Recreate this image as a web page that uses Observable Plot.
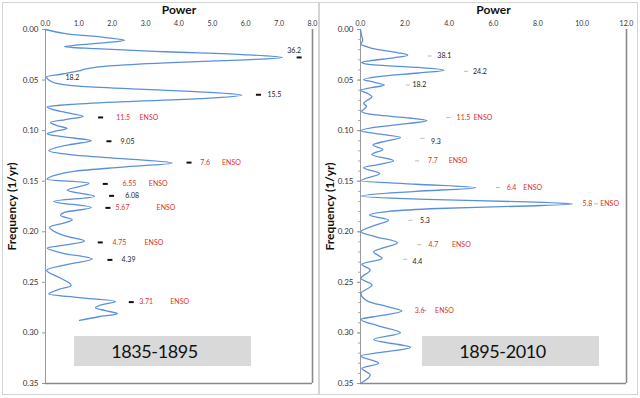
<!DOCTYPE html>
<html>
<head>
<meta charset="utf-8">
<script src="https://cdn.jsdelivr.net/npm/d3@7"></script>
<script src="https://cdn.jsdelivr.net/npm/@observablehq/plot@0.6"></script>
<style>
  html, body { margin: 0; padding: 0; background: #fff; }
  #wrap { position: relative; width: 640px; height: 398px; overflow: hidden; font-family: Lato, "Open Sans", sans-serif; }
  .panel { position: absolute; top: 0; }
  .border { position: absolute; border: 1px solid #d4d4d4; pointer-events: none; }
  .box { position: absolute; background: #d9d9d9; color: #111; font-size: 18px; letter-spacing: -0.4px; display: flex; align-items: center; justify-content: center; }
</style>
</head>
<body>
<div id="wrap">
  <div class="border" style="left:2px;top:2px;width:315px;height:391px"></div>
  <div class="border" style="left:319px;top:2px;width:317px;height:391px"></div>
  <div class="panel" id="left" style="left:0px"></div>
  <div class="panel" id="right" style="left:320px"></div>
  <div class="box" style="left:74px;top:336px;width:177px;height:30px;padding-right:16px;box-sizing:border-box">1835-1895</div>
  <div class="box" style="left:422px;top:336px;width:177px;height:30px;padding-right:16px;box-sizing:border-box">1895-2010</div>
</div>
<script>
// ---------- data: left panel (1835-1895) ----------
const leftFreq  = [0,0.004,0.008,0.0106,0.013,0.0155,0.017,0.019,0.022,0.025,0.0277,0.030,0.033,0.036,0.039,0.041,0.044,0.047,0.050,0.053,0.056,0.059,0.062,0.065,0.068,0.071,0.074,0.0765,0.079,0.082,0.086,0.089,0.092,0.095,0.098,0.1005,0.103,0.106,0.110,0.114,0.120,0.124,0.128,0.132,0.136,0.140,0.144,0.148,0.152,0.159,0.165,0.170,0.176,0.181,0.184,0.188,0.191,0.1955,0.201,0.205,0.209,0.213,0.216,0.221,0.227,0.232,0.238,0.245,0.253,0.257,0.2615,0.265,0.269,0.272,0.275,0.278,0.281,0.284,0.2875];
const leftPower = [0,0.6,1.8,2.37,1.8,0.9,0.57,1.5,3.6,6.0,7.1,6.0,3.6,1.9,1.2,1.0,0.5,0.03,0.1,0.3,1.0,2.8,4.8,5.88,4.8,2.6,0.8,0.05,0.2,0.6,1.13,0.6,0.15,0.35,0.65,0.3,0.05,0.5,1.37,0.7,0.1,0.8,2.4,3.79,2.3,0.9,0.3,0.05,1.3,0.65,1.47,0.25,1.37,0.55,0.45,0.8,0.6,0.12,0.35,0.7,1.17,0.6,0.05,0.5,1.4,0.7,0.03,0.4,0.77,0.4,0.1,1.0,2.1,1.7,1.5,1.8,2.15,1.6,1.02];
const leftLabels    = ["36.2","18.2","15.5","11.5","9.05","7.6","6.55","6.08","5.67","4.75","4.39","3.71"];
const leftMarkPower = [7.6,0.6,6.38,1.65,1.9,4.3,1.79,1.98,1.87,1.64,1.93,2.57];
const leftEnso      = [false,false,false,true,false,true,true,false,true,true,false,true];

// ---------- data: right panel (1895-2010) ----------
const rightFreq  = [0,0.006,0.0106,0.0145,0.0165,0.020,0.023,0.0254,0.028,0.031,0.0326,0.035,0.0375,0.0402,0.043,0.046,0.0494,0.052,0.055,0.0575,0.060,0.0635,0.0666,0.070,0.073,0.076,0.079,0.081,0.0845,0.0875,0.0903,0.093,0.0965,0.100,0.1035,0.1067,0.110,0.1143,0.1186,0.1235,0.1298,0.1335,0.1367,0.1423,0.1496,0.153,0.1565,0.160,0.1647,0.168,0.1705,0.1726,0.1745,0.177,0.180,0.1835,0.1884,0.194,0.200,0.205,0.2108,0.2155,0.2198,0.2263,0.232,0.2378,0.246,0.2527,0.261,0.265,0.269,0.274,0.2784,0.283,0.2866,0.293,0.2998,0.3066,0.3143,0.319,0.3228,0.330,0.335,0.3416,0.349];
const rightPower = [0,0.05,0.1,0.02,0.2,0.8,1.7,2.13,1.5,0.4,0.05,0.6,2.6,3.76,2.6,1.0,0.14,0.6,1.07,0.5,0.02,0.35,0.52,0.3,0.14,0.27,0.15,0.05,0.7,2.2,3.0,2.1,0.7,0.02,0.9,1.8,1.2,0.56,1.01,0.51,1.5,0.8,0.14,0.86,0.02,2.5,5.19,2.5,0.02,3.0,7.5,9.56,7.5,3.5,1.2,0.41,1.27,0.6,0.02,0.7,1.67,1.1,0.59,0.97,0.06,0.44,0.02,0.52,0.02,0.1,0.36,1.2,1.87,0.9,0.02,0.8,1.8,0.59,2.25,1.0,0.02,0.82,0.06,0.44,0.06];
const rightLabels    = ["38.1","24.2","18.2","11.5","9.3","7.7","6.4","5.8","5.3","4.7","4.4","3.6"];
const rightMarkPower = [3.12,4.76,2.13,3.96,2.8,2.55,6.2,10.62,2.25,2.65,2.02,2.9];
const rightEnso      = [false,false,false,true,false,true,true,true,false,true,false,true];

// ticks
const yTicks = [0,0.05,0.10,0.15,0.20,0.25,0.30,0.35];
const yMinor = d3.range(0, 36).map(i => i / 100);
const xTicksLeft  = [0,1,2,3,4,5,6,7,8];
const xTicksRight = [0,2,4,6,8,10,12];

// label placement (style, pixels)
const leftOff = {
  "36.2": {n: 2, anchor: "end", dy: -7}, "18.2": {n: 0, dy: -7, noDash: true}, "15.5": {n: 9},
  "11.5": {n: 15.7, e: 39}, "9.05": {n: 11.7}, "7.6": {n: 11.3, e: 33}, "6.55": {n: 17.3, e: 43.6},
  "6.08": {n: 13.7}, "5.67": {n: 7.7, e: 48.7}, "4.75": {n: 12.3, e: 44.3}, "4.39": {n: 11.7}, "3.71": {n: 8, e: 39}
};
const rightOff = {
  "38.1": {n: 7.7}, "24.2": {n: 7}, "18.2": {n: 4.7}, "11.5": {n: 8.3, e: 25.3}, "9.3": {n: 8.4, dy: 3},
  "7.7": {n: 11, e: 31.6}, "6.4": {n: 8.7, e: 25.4}, "5.8": {n: -13.3, e: 4.3}, "5.3": {n: 9.7},
  "4.7": {n: 9.3, e: 32.7}, "4.4": {n: 7.3, dy: 2}, "3.6": {n: -10, e: 10.3}
};

function dashSymbol() {
  return { draw(ctx, size) { const r = Math.sqrt(size / Math.PI); ctx.moveTo(-r, 0); ctx.lineTo(r, 0); } };
}

function panel(opts) {
  const curve = opts.freq.map((f, i) => ({f, p: opts.power[i]}));
  const labels = opts.labels.map((t, i) => {
    const o = opts.off[t] || {};
    return {t, f: 1 / parseFloat(t), p: opts.mark[i], enso: opts.enso[i],
            n: o.n ?? 10, e: o.e ?? 30, dy: o.dy ?? 0, anchor: o.anchor || "start", noDash: !!o.noDash};
  });
  const red = "#e0302a";
  const marks = [
    Plot.ruleX([0], {stroke: "#9a9a9a", strokeWidth: 1}),
    Plot.ruleX([opts.xmax], {stroke: "#8a8a8a", strokeWidth: 1.6}),
    Plot.ruleY([0.35], {stroke: "#8a8a8a", strokeWidth: 1.6}),
    Plot.axisX({anchor: "top", ticks: opts.xTicks, tickFormat: d3.format(".1f"), tickSize: 0, tickPadding: 4,
                fontSize: 7, label: null, fill: "#333"}),
    Plot.axisY({anchor: "left", ticks: yTicks, tickFormat: d3.format(".2f"), tickSize: 3, tickPadding: 4,
                fontSize: 8, label: null, fill: "#333", stroke: "#999"}),
    Plot.text(["Power"], {frameAnchor: "top", dy: -19, lineAnchor: "middle", fontSize: 12, fontWeight: "bold", fill: "#111"}),
    Plot.text(["Frequency (1/yr)"], {frameAnchor: "left", textAnchor: "middle", dx: -opts.ylabOff, rotate: -90,
                fontSize: 12, fontWeight: "bold", fill: "#111"}),
    Plot.line(curve, {x: "p", y: "f", curve: "monotone-y", stroke: "#5a8fdc", strokeWidth: 1.3}),
    Plot.dot(labels.filter(d => !d.noDash), {x: "p", y: "f", r: opts.dashR, symbol: dashSymbol(), fill: "none",
                stroke: opts.dashColor, strokeWidth: opts.dashW})
  ];
  if (opts.minor) {
    marks.splice(4, 0, Plot.axisY({anchor: "left", ticks: yMinor, tickFormat: () => "", tickSize: 2, label: null, stroke: "#aaa"}));
  }
  return Plot.plot({
    width: opts.width, height: 398,
    marginLeft: opts.ml, marginRight: opts.mr, marginTop: 29, marginBottom: 15,
    style: {fontFamily: "Lato, 'Open Sans', sans-serif", background: "transparent", overflow: "visible"},
    x: {domain: [0, opts.xmax]},
    y: {domain: [0, 0.35], reverse: true},
    marks: marks.concat(
      labels.map(d => Plot.text([d], {x: "p", y: "f", text: "t", dx: d.n, dy: d.dy, fontSize: 7,
                   fill: d.enso ? red : "#222", textAnchor: d.anchor})),
      labels.filter(d => d.enso).map(d => Plot.text([d], {x: "p", y: "f", text: () => "ENSO", dx: d.e, dy: d.dy,
                   fontSize: 7, fill: red, textAnchor: "start"}))
    )
  });
}

document.getElementById("left").appendChild(panel({
  freq: leftFreq, power: leftPower, labels: leftLabels, mark: leftMarkPower, enso: leftEnso, off: leftOff,
  xmax: 8, xTicks: xTicksLeft, width: 318, ml: 45, mr: 6, ylabOff: 33,
  dashColor: "#111", dashW: 2, dashR: 2.5, minor: false
}));
document.getElementById("right").appendChild(panel({
  freq: rightFreq, power: rightPower, labels: rightLabels, mark: rightMarkPower, enso: rightEnso, off: rightOff,
  xmax: 12, xTicks: xTicksRight, width: 320, ml: 40, mr: 14, ylabOff: 30,
  dashColor: "#bbb", dashW: 1, dashR: 2, minor: true
}));
</script>
</body>
</html>
